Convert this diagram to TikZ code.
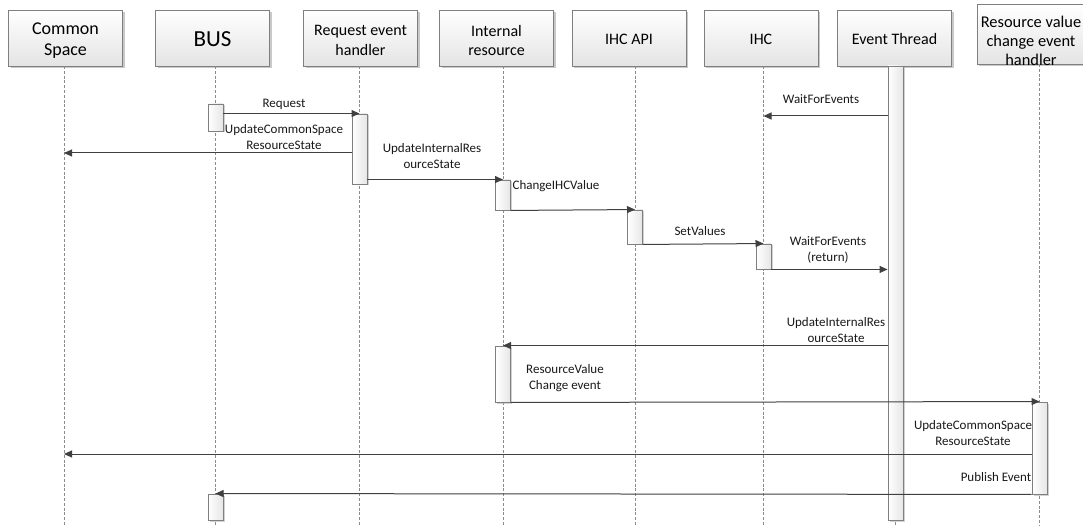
\documentclass[tikz,border=0pt]{standalone}
\usepackage{fontspec}
\setmainfont{Carlito}
\usetikzlibrary{arrows.meta,calc,shadows}

\definecolor{boxline}{HTML}{7F7F7F}
\definecolor{hdrbot}{HTML}{E4E4E4}
\definecolor{msgline}{HTML}{404040}
\definecolor{lifegray}{HTML}{8C8C8C}
\definecolor{actright}{HTML}{E6E6E6}

\begin{document}
\begin{tikzpicture}[x=1pt,y=-1pt,
  hdr/.style={draw=boxline, line width=0.9pt, top color=white, bottom color=hdrbot,
    minimum width=114pt, minimum height=56pt, inner sep=0pt,
    drop shadow={shadow xshift=2pt, shadow yshift=-2pt, fill=black!35, opacity=0.6}},
  htxt/.style={inner sep=0pt, align=center, text=black,
    font=\fontsize{16}{19.5}\selectfont},
  act/.style={draw=boxline, line width=0.9pt, left color=white, right color=actright,
    minimum width=15pt, inner sep=0pt,
    drop shadow={shadow xshift=1.5pt, shadow yshift=-1.5pt, fill=black!35, opacity=0.5}},
  life/.style={draw=lifegray, line width=0.8pt, dash pattern=on 3pt off 1.8pt},
  msg/.style={draw=msgline, line width=1pt, -{Triangle[length=8pt,width=7pt]}},
  lbl/.style={inner sep=0pt, align=center, text=black!90, font=\fontsize{13}{16}\selectfont}]

\useasboundingbox (0,0) rectangle (1083,526);
\fill[white] (0,0) rectangle (1083,526);

% participant boxes
\node[hdr] (cs)  at (65.5,38)  {};
\node[hdr] (bus) at (212.5,38) {};
\node[hdr] (reh) at (360.5,38) {};
\node[hdr] (ir)  at (496.5,38) {};
\node[hdr] (api) at (629,38)   {};
\node[hdr] (ihc) at (761,38)   {};
\node[hdr] (et)  at (894.5,38) {};
\node[hdr, minimum width=118pt, minimum height=60pt] (rv) at (1036,34) {};

% participant names
\node[htxt, font=\fontsize{18}{21.7}\selectfont] (cst) at ($(cs.center)+(0,2.5)$) {Common\\Space};
\node[htxt, font=\fontsize{23}{27}\selectfont] (bust) at ($(bus.center)+(0,1.5)$) {BUS};
\node[htxt] (reht) at ($(reh.center)+(0,2.5)$) {Request event\\handler};
\node[htxt] (irt)  at ($(ir.center)+(0,2.5)$)  {Internal\\resource};
\node[htxt] (apit) at ($(api.center)+(0,1)$)   {IHC API};
\node[htxt] (ihct) at ($(ihc.center)+(0,1)$)   {IHC};
\node[htxt] (ett)  at ($(et.center)+(0,1)$)    {Event Thread};
\node[htxt, font=\fontsize{16.4}{19}\selectfont] (rvt) at (1031,41)
  {Resource value\\change event\\handler};

% lifelines
\coordinate (csl)  at (64,66);
\coordinate (busl) at (215.5,66);
\coordinate (rehl) at (359.5,66);
\coordinate (irl)  at (503,66);
\coordinate (apil) at (635,66);
\coordinate (ihcl) at (763.5,66);
\coordinate (etl)  at (895.5,66);
\coordinate (rvl)  at (1039.5,64);
\foreach \l in {csl,busl,rehl,irl,apil,ihcl,etl,rvl}
  \draw[life] (\l) -- ++(0,470);

% activation bars
\node[act, minimum height=27pt]  (bus1) at (215.5,117.5) {};
\node[act, minimum height=70pt]  (reh1) at (359.5,149)   {};
\node[act, minimum height=30pt]  (ir1)  at (503,195)     {};
\node[act, minimum height=34pt]  (api1) at (635,227)     {};
\node[act, minimum height=25pt]  (ihc1) at (763.5,256.5) {};
\node[act, minimum height=454pt] (et1)  at (895.5,293)   {};
\node[act, minimum height=56pt]  (ir2)  at (503,374)     {};
\node[act, minimum height=92pt]  (rv1)  at (1039.5,448)  {};
\node[act, minimum height=26pt]  (bus2) at (215.5,507)   {};

% free ends on lifelines without a bar
\coordinate (ihcA) at (763.5,116);
\coordinate (csA)  at (64,153);
\coordinate (csB)  at (64,454);

% messages
\draw[msg] (et1.west |- ihcA) -- (ihcA);
\draw[msg] (bus1.east |- reh1.north) -- (reh1.north);
\draw[msg] (reh1.west |- csA) -- (csA);
\draw[msg] (reh1.east |- ir1.north) -- (ir1.north);
\draw[msg] (ir1.south east) -- (api1.north);
\draw[msg] (api1.south east) -- (ihc1.north);
\draw[msg] (ihc1.south east) -- (ihc1.south east -| et1.west);
\draw[msg] (et1.west |- ir2.north) -- (ir2.north);
\draw[msg] (ir2.south east) -- (rv1.north);
\draw[msg] (rv1.west |- csB) -- (csB);
\draw[msg] (rv1.south west) -- (bus2.north);

% message labels
\node[lbl] (l1)  at (821,99)    {WaitForEvents};
\node[lbl] (l2)  at (284,104)   {Request};
\node[lbl] (l3)  at (284,137)   {UpdateCommonSpace\\ResourceState};
\node[lbl] (l4)  at (432,156)   {UpdateInternalRes\\ourceState};
\node[lbl] (l5)  at (556,186)   {ChangeIHCValue};
\node[lbl] (l6)  at (700,231)   {SetValues};
\node[lbl] (l7)  at (828,250)   {WaitForEvents\\(return)};
\node[lbl] (l8)  at (836,330)   {UpdateInternalRes\\ourceState};
\node[lbl] (l9)  at (565,378)   {ResourceValue\\Change event};
\node[lbl] (l10) at (973,433)   {UpdateCommonSpace\\ResourceState};
\node[lbl] (l11) at (996,477)   {Publish Event};

\end{tikzpicture}
\end{document}
